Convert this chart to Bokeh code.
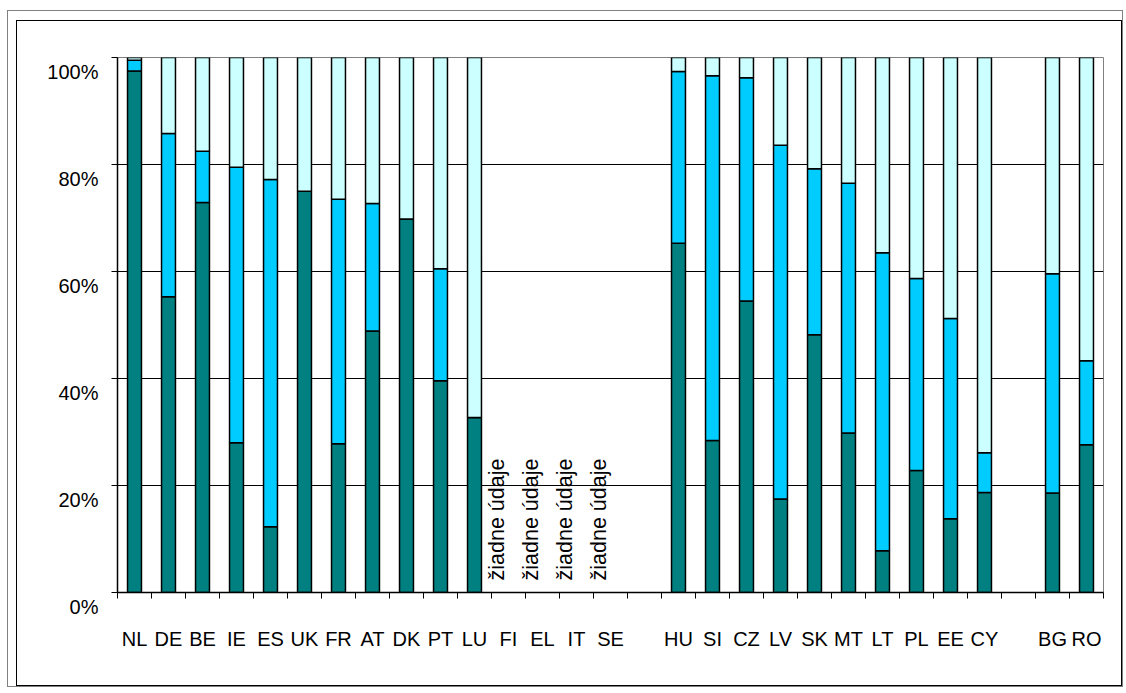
import math
from bokeh.plotting import figure
from bokeh.models import (ColumnDataSource, Range1d, LinearAxis, FixedTicker, Column)
from bokeh.core.properties import value
from bokeh.embed import file_html
from bokeh.resources import INLINE

countries = ["NL", "DE", "BE", "IE", "ES", "UK", "FR", "AT", "DK", "PT", "LU", "FI", "EL", "IT", "SE",
             "", "HU", "SI", "CZ", "LV", "SK", "MT", "LT", "PL", "EE", "CY", "", "BG", "RO"]
share_1 = [97.5, 55.3, 72.9, 28.0, 12.3, 75.0, 27.8, 48.9, 69.8, 39.6, 32.7, None, None, None, None,
           None, 65.3, 28.4, 54.5, 17.5, 48.2, 29.8, 7.8, 22.8, 13.8, 18.7, None, 18.6, 27.6]
share_2 = [2.0, 30.5, 9.6, 51.5, 64.9, 0.0, 45.7, 23.8, 0.0, 20.9, 0.0, None, None, None, None,
           None, 32.1, 68.2, 41.7, 66.1, 31.0, 46.7, 55.7, 35.9, 37.4, 7.4, None, 41.0, 15.7]
share_3 = [0.5, 14.2, 17.5, 20.5, 22.8, 25.0, 26.5, 27.3, 30.2, 39.5, 67.3, None, None, None, None,
           None, 2.6, 3.4, 3.8, 16.4, 20.8, 23.5, 36.5, 41.3, 48.8, 73.9, None, 40.4, 56.7]
no_data = ["FI", "EL", "IT", "SE"]
no_data_text = "žiadne údaje"
y_ticks = [0, 20, 40, 60, 80, 100]
y_tick_labels = ["0%", "20%", "40%", "60%", "80%", "100%"]
colors = ["#008080", "#00CCFF", "#CCFFFF"]

FONT = "Liberation Sans"
W, H = 1106, 666

n = len(countries)
centers = [i + 0.5 for i in range(n)]
idx = [i for i, v in enumerate(share_1) if v is not None]
src = ColumnDataSource(dict(
    x=[centers[i] for i in idx],
    s1=[share_1[i] for i in idx],
    s2=[share_2[i] for i in idx],
    s3=[share_3[i] for i in idx],
))

p = figure(x_range=Range1d(0, n), y_range=Range1d(0, 100),
           width=W, height=H, output_backend="svg", toolbar_location=None,
           x_axis_location=None, y_axis_location=None,
           min_border_left=100, min_border_right=20, min_border_top=36, min_border_bottom=95)
p.background_fill_color = "white"
p.border_fill_color = "white"
p.outline_line_color = "#808080"
p.outline_line_width = 1

p.xgrid.visible = False
p.ygrid.ticker = FixedTicker(ticks=y_ticks)
p.ygrid.grid_line_color = "black"
p.ygrid.grid_line_width = 1

p.vbar_stack(["s1", "s2", "s3"], x="x", width=0.41, source=src, color=colors,
             line_color="black", line_width=1.5)

# x axis: labels at category centres, tick marks at category boundaries
named = [(c, name) for c, name in zip(centers, countries) if name]
x_axis = LinearAxis(ticker=FixedTicker(ticks=[c for c, _ in named], minor_ticks=list(range(n + 1))),
                    major_label_overrides={c: name for c, name in named},
                    axis_line_color="black", axis_line_width=1.5,
                    major_tick_line_color=None, major_tick_out=6, major_tick_in=0,
                    minor_tick_line_color="black", minor_tick_out=6, minor_tick_in=0,
                    major_label_standoff=29, major_label_text_font=FONT,
                    major_label_text_font_size="20px", major_label_text_color="black")
p.add_layout(x_axis, "below")

# y axis: labels sit ~15px below their gridline, as in the original (blank first line)
y_axis = LinearAxis(ticker=FixedTicker(ticks=y_ticks),
                    major_label_overrides={t: "\u00a0\n" + s for t, s in zip(y_ticks, y_tick_labels)},
                    axis_line_color="black", axis_line_width=1.5,
                    major_tick_line_color="black", major_tick_out=6, major_tick_in=0,
                    minor_tick_line_color=None, major_label_standoff=13,
                    major_label_text_font=FONT, major_label_text_font_size="20px",
                    major_label_text_line_height=1.3, major_label_text_color="black")
p.add_layout(y_axis, "left")

nd = ColumnDataSource(dict(x=[centers[countries.index(c)] for c in no_data],
                           y=[0] * len(no_data), text=[no_data_text] * len(no_data)))
p.text(x="x", y="y", text="text", source=nd, angle=math.pi / 2, y_offset=-12,
       text_align="left", text_baseline="bottom", text_font=value(FONT),
       text_font_size="21.5px", text_color="black")

# chart frame borders: inner black around the chart, outer grey around that
p.styles = {"border": "1px solid black"}
layout = Column(p, styles={"border": "1px solid #808080", "padding": "9px 0 0 8px",
                           "margin": "10px 0 0 7px"})

open("out.html", "w").write(file_html(layout, INLINE))
